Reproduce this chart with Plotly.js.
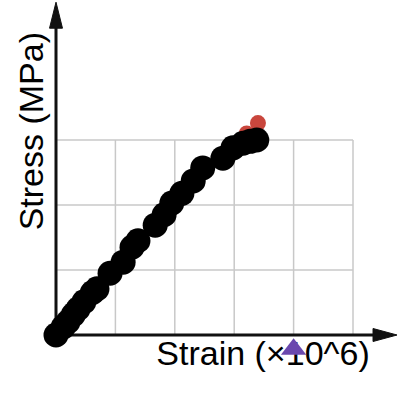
<!DOCTYPE html>
<html>
<head>
<meta charset="utf-8">
<script src="https://cdn.plot.ly/plotly-3.0.1.min.js"></script>
<style>html,body{margin:0;padding:0;background:#fff;}#chart{width:400px;height:400px;}</style>
</head>
<body>
<div id="chart"></div>
<script>
// Stress-strain data
var strainMain = [0, 0.12, 0.20, 0.29, 0.37, 0.47, 0.61, 0.69, 0.91, 1.13, 1.28, 1.38, 1.67, 1.82, 1.95, 2.12, 2.31, 2.47, 2.81, 2.98, 3.15, 3.27, 3.38];
var stressMain = [0, 0.12, 0.20, 0.31, 0.40, 0.51, 0.65, 0.71, 0.95, 1.12, 1.35, 1.45, 1.69, 1.85, 2.03, 2.18, 2.37, 2.57, 2.72, 2.88, 2.95, 2.98, 3.00];
var strainRed = [3.21, 3.40];
var stressRed = [3.10, 3.26];
var strainTri = [4.0];
var stressTri = [-0.22];
var gridX = [1, 2, 3, 4, 5];
var gridY = [1, 2, 3];
var xTitle = "Strain (×10^6)";
var yTitle = "Stress (MPa)";

var traces = [
  // x-axis title as a text trace so the triangle marker can sit on top of it
  {x: [3.485], y: [-0.335], type: 'scatter', mode: 'text', text: [xTitle], textposition: 'middle center',
   cliponaxis: false, textfont: {size: 34, color: '#000', family: 'Liberation Sans, Arial, sans-serif'}, hoverinfo: 'none'},
  {x: strainRed, y: stressRed, type: 'scatter', mode: 'markers', cliponaxis: false,
   marker: {color: '#c9463d', size: 16}, hoverinfo: 'none'},
  {x: strainMain, y: stressMain, type: 'scatter', mode: 'markers', cliponaxis: false,
   marker: {color: '#000000', size: 25}, hoverinfo: 'none'},
  {x: strainTri, y: stressTri, type: 'scatter', mode: 'markers', cliponaxis: false,
   marker: {color: '#6a48ae', size: 22, symbol: 'triangle-up'}, hoverinfo: 'none'}
];

var axColor = '#111111';
var gridColor = '#c8c8c8';
var xMax = gridX[gridX.length - 1];
var yMax = gridY[gridY.length - 1];
var shapes = [];
gridX.forEach(function (g) {
  shapes.push({type: 'line', xref: 'x', yref: 'y', x0: g, x1: g, y0: 0, y1: yMax, line: {color: gridColor, width: 1.5}, layer: 'below'});
});
gridY.forEach(function (g) {
  shapes.push({type: 'line', xref: 'x', yref: 'y', x0: 0, x1: xMax, y0: g, y1: g, line: {color: gridColor, width: 1.5}, layer: 'below'});
});
// axes with arrowheads
shapes.push({type: 'line', xref: 'x', yref: 'y', x0: 0, x1: 0, y0: 0, y1: 4.74, line: {color: axColor, width: 3}, layer: 'below'});
shapes.push({type: 'path', xref: 'x', yref: 'y', path: 'M -0.109 4.72 L 0.109 4.72 L 0 5.12 Z', fillcolor: axColor, line: {color: axColor, width: 1}, layer: 'below'});
shapes.push({type: 'line', xref: 'x', yref: 'y', x0: 0, x1: 5.35, y0: 0, y1: 0, line: {color: axColor, width: 3}, layer: 'below'});
shapes.push({type: 'path', xref: 'x', yref: 'y', path: 'M 5.337 0.1 L 5.337 -0.1 L 5.741 0 Z', fillcolor: axColor, line: {color: axColor, width: 1}, layer: 'below'});

var layout = {
  width: 400, height: 400,
  margin: {l: 40, r: 0, t: 0, b: 30, pad: 0},
  paper_bgcolor: '#ffffff', plot_bgcolor: '#ffffff',
  showlegend: false,
  font: {family: 'Liberation Sans, Arial, sans-serif', color: '#000'},
  xaxis: {range: [-0.2694, 5.7912], showticklabels: false, ticks: '',
          showgrid: false, zeroline: false, showline: false},
  yaxis: {range: [-0.5385, 5.1538], showticklabels: false, ticks: '',
          showgrid: false, zeroline: false, showline: false},
  shapes: shapes,
  annotations: [
    {text: yTitle, xref: 'paper', yref: 'paper', x: -0.025, y: 0.645, xanchor: 'center', yanchor: 'middle',
     textangle: -90, showarrow: false, font: {size: 34, color: '#000'}}
  ]
};

Plotly.newPlot('chart', traces, layout, {displayModeBar: false, staticPlot: true});
</script>
</body>
</html>
